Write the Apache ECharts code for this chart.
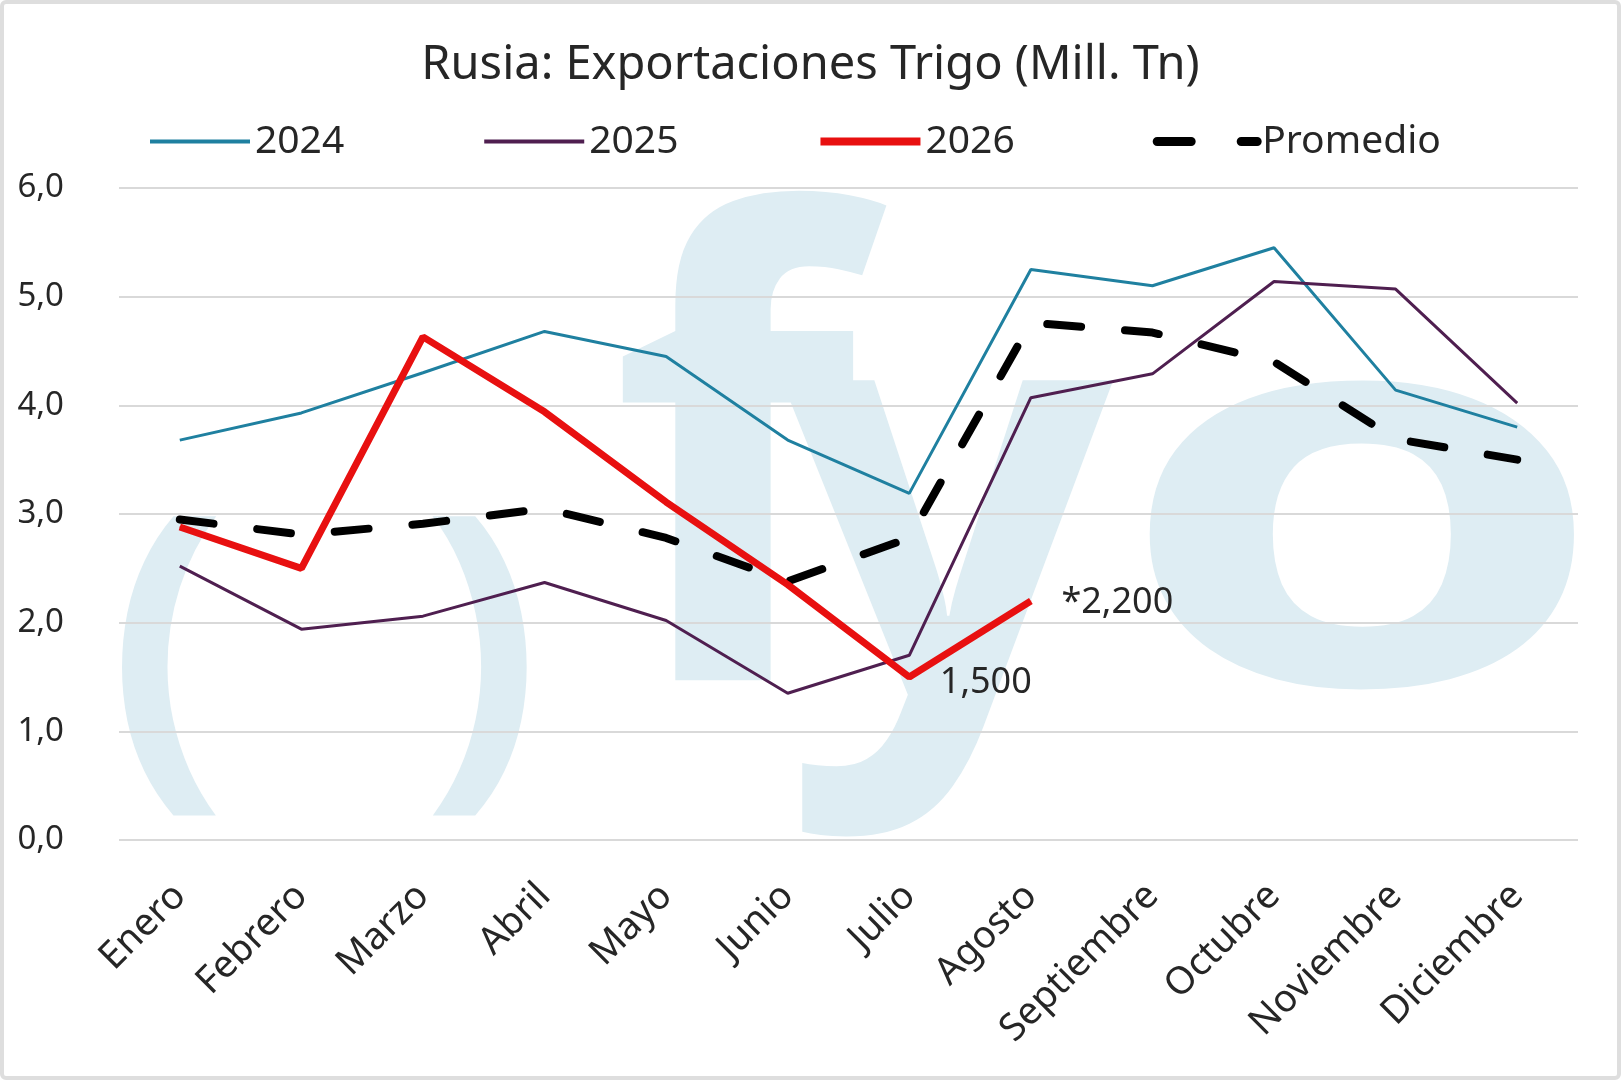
<!DOCTYPE html>
<html>
<head>
<meta charset="utf-8">
<script src="https://cdn.jsdelivr.net/npm/echarts@6/dist/echarts.min.js"></script>
<style>
  html, body { margin: 0; padding: 0; background: #fff; }
  #wrap { position: relative; width: 1621px; height: 1080px; }
  #chart { position: absolute; left: 0; top: 0; width: 1621px; height: 1080px; }
  #borde { position: absolute; left: 0; top: 0; width: 1621px; height: 1080px;
           box-sizing: border-box; border: 4px solid #dedede; border-radius: 6px; pointer-events: none; }
</style>
</head>
<body>
<div id="wrap">
  <div id="chart"></div>
  <div id="borde"></div>
</div>
<script>
 // meses del eje x
 var meses = ['Enero','Febrero','Marzo','Abril','Mayo','Junio','Julio','Agosto','Septiembre','Octubre','Noviembre','Diciembre'];
 // exportaciones (Mill. Tn)
 var serie2024 = [3.68, 3.93, 4.30, 4.68, 4.45, 3.68, 3.19, 5.25, 5.10, 5.45, 4.14, 3.80];
 var serie2025 = [2.52, 1.94, 2.06, 2.37, 2.02, 1.35, 1.70, 4.07, 4.29, 5.14, 5.07, 4.02];
 var serie2026 = [2.88, 2.50, 4.63, 3.94, 3.11, 2.35, 1.50, 2.20];
 var promedio  = [2.95, 2.81, 2.91, 3.05, 2.78, 2.38, 2.78, 4.76, 4.67, 4.40, 3.69, 3.50];
 // etiquetas de la serie 2026
 var etiquetas2026 = ['', '', '', '', '', '', '1,500', '*2,200'];

 var fuente = 'Noto Sans';
 var colorTexto = '#262626';
 var colorMarca = '#deedf3';

 var myChart = echarts.init(document.getElementById('chart'));

 // datos 2026 con etiqueta en Julio y Agosto
 var datos2026 = serie2026.map(function(v, i){
	if(!etiquetas2026[i]) return v;
	return {
		value: v,
		label: {
			show: true,
			position: 'right',
			distance: 30,
			offset: i === 6 ? [0, 6] : [0, 2],
			formatter: etiquetas2026[i],
			color: colorTexto,
			fontSize: 36,
			fontFamily: fuente
		}
	};
 });

 var option = {
	backgroundColor: '#ffffff',
	animation: false,
	title: {
		text: 'Rusia: Exportaciones Trigo (Mill. Tn)',
		left: 'center',
		top: 37,
		textStyle: {
			color: colorTexto,
			fontSize: 47,
			fontWeight: 'normal',
			fontFamily: fuente
		}
	},
	legend: {
		top: 117,
		left: 143,
		itemWidth: 100,
		itemHeight: 20,
		itemGap: 138,
		textStyle: {
			color: colorTexto,
			fontSize: 39,
			fontFamily: fuente
		},
		data: [
			{ name: '2024', itemStyle: { opacity: 0 }, lineStyle: { width: 4 } },
			{ name: '2025', itemStyle: { opacity: 0 }, lineStyle: { width: 4 } },
			{ name: '2026', itemStyle: { opacity: 0 }, lineStyle: { width: 8 } },
			{ name: 'Promedio', itemStyle: { opacity: 0 }, lineStyle: { width: 9, type: [34, 50], cap: 'round' } }
		]
	},
	// marca de agua del fondo
	graphic: [
		{ type: 'text', z: -10, silent: true, left: 108, top: 492, scaleY: 0.98,
		  style: { text: '(', fill: colorMarca, font: 'bold 350px "Noto Sans"' } },
		{ type: 'text', z: -10, silent: true, left: 422, top: 492, scaleY: 0.98,
		  style: { text: ')', fill: colorMarca, font: 'bold 350px "Noto Sans"' } },
		{ type: 'text', z: -10, silent: true, left: 610, top: 178,
		  style: { text: 'f', fill: colorMarca, font: 'bold 640px "Noto Sans"' } },
		{ type: 'text', z: -10, silent: true, left: 782, top: 242,
		  style: { text: 'y', fill: colorMarca, font: 'bold 580px "Noto Sans"' } },
		{ type: 'text', z: -10, silent: true, left: 1112, top: 256, scaleX: 1.38, scaleY: 0.94,
		  style: { text: 'o', fill: colorMarca, font: 'bold 580px "Noto Sans"' } }
	],
	grid: {
		left: 119,
		right: 43,
		top: 188,
		bottom: 240
	},
	xAxis: {
		type: 'category',
		data: meses,
		boundaryGap: true,
		axisLine: { show: false },
		axisTick: { show: false },
		axisLabel: {
			rotate: 45,
			margin: 50,
			interval: 0,
			color: colorTexto,
			fontSize: 38,
			fontFamily: fuente
		}
	},
	yAxis: {
		type: 'value',
		min: 0,
		max: 6,
		interval: 1,
		axisLine: { show: false },
		axisTick: { show: false },
		axisLabel: {
			margin: 55,
			color: colorTexto,
			fontSize: 33,
			fontFamily: fuente,
			formatter: function(v){ return v.toFixed(1).replace('.', ','); }
		},
		splitLine: {
			lineStyle: { color: '#d9d9d9', width: 2 }
		}
	},
	series: [
		{
			name: '2024',
			type: 'line',
			data: serie2024,
			symbol: 'none',
			color: '#1f80a0',
			lineStyle: { width: 3, color: '#1f80a0' },
			z: 3
		},
		{
			name: '2025',
			type: 'line',
			data: serie2025,
			symbol: 'none',
			color: '#4f1f50',
			lineStyle: { width: 3, color: '#4f1f50' },
			z: 3
		},
		{
			name: 'Promedio',
			type: 'line',
			data: promedio,
			symbol: 'none',
			color: '#000000',
			lineStyle: { width: 8, color: '#000000', type: [34, 44], cap: 'round' },
			z: 4
		},
		{
			name: '2026',
			type: 'line',
			data: datos2026,
			symbol: 'circle',
			symbolSize: 1,
			showSymbol: true,
			color: '#e81010',
			itemStyle: { color: '#e81010' },
			lineStyle: { width: 7, color: '#e81010' },
			z: 5
		}
	]
 };
 myChart.setOption(option, true);
</script>
</body>
</html>
